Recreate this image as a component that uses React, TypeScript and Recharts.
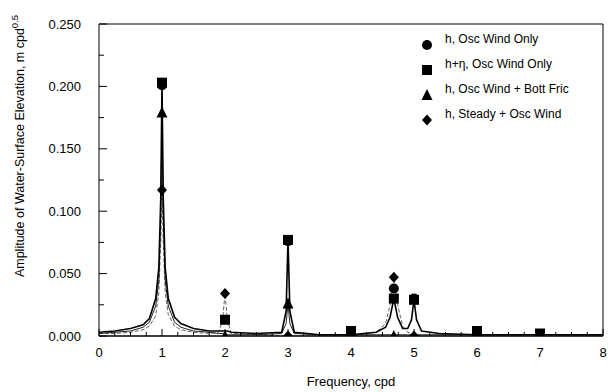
import React from "react";
import {
  ComposedChart,
  Line,
  Scatter,
  XAxis,
  YAxis,
  ZAxis,
  ReferenceLine,
  Label,
} from "recharts";

const FONT = "'Liberation Sans', Arial, sans-serif";

// continuous spectra
const freq = [
  0, 0.25, 0.5, 0.7, 0.8, 0.9, 0.95, 0.98, 1.0, 1.02, 1.05, 1.1, 1.2, 1.3, 1.5, 1.75,
  1.9, 1.96, 2.0, 2.04, 2.1, 2.5, 2.9, 2.97, 3.0, 3.03, 3.1, 3.5, 4.0, 4.4, 4.55, 4.62,
  4.68, 4.74, 4.82, 4.9, 4.96, 5.0, 5.04, 5.12, 5.4, 6.0, 7.0, 8.0,
];
const hEtaLine = [
  0.003, 0.004, 0.006, 0.009, 0.014, 0.03, 0.055, 0.11, 0.203, 0.11, 0.055, 0.03, 0.015,
  0.01, 0.006, 0.004, 0.004, 0.004, 0.004, 0.004, 0.003, 0.002, 0.003, 0.02, 0.077, 0.02,
  0.003, 0.001, 0.001, 0.003, 0.007, 0.015, 0.03, 0.015, 0.006, 0.006, 0.013, 0.029, 0.013,
  0.004, 0.002, 0.001, 0.001, 0.001,
];
const frictionLine = [
  0.002, 0.003, 0.004, 0.007, 0.011, 0.024, 0.045, 0.095, 0.179, 0.095, 0.045, 0.024, 0.011,
  0.007, 0.004, 0.003, 0.002, 0.002, 0.001, 0.001, 0.001, 0.001, 0.002, 0.01, 0.026, 0.01,
  0.002, 0.001, 0.001, 0.001, 0.001, 0.001, 0.001, 0.001, 0.001, 0.001, 0.001, 0.001, 0.001,
  0.001, 0.001, 0.001, 0.001, 0.001,
];
const steadyLine = [
  0.002, 0.002, 0.003, 0.005, 0.008, 0.016, 0.035, 0.075, 0.117, 0.075, 0.035, 0.017, 0.008,
  0.005, 0.003, 0.002, 0.003, 0.012, 0.034, 0.012, 0.002, 0.001, 0.0, 0.0, 0.0, 0.0, 0.0,
  0.0, 0.0, 0.003, 0.01, 0.025, 0.047, 0.025, 0.008, 0.003, 0.002, 0.001, 0.001, 0.0, 0.0,
  0.0, 0.0, 0.0,
];

// markers
const circleX = [1, 3, 4.68, 5];
const circleY = [0.201, 0.076, 0.038, 0.03];
const squareX = [1, 2, 3, 4, 4.68, 5, 6, 7];
const squareY = [0.203, 0.013, 0.077, 0.004, 0.03, 0.029, 0.004, 0.002];
const triangleX = [1, 2, 3, 4.68];
const triangleY = [0.179, 0.0, 0.026, 0.0];
const diamondX = [1, 2, 3, 4.68, 5];
const diamondY = [0.117, 0.034, 0.0, 0.047, 0.0];

const xTicks = [
  0, 0.25, 0.5, 0.75, 1, 1.25, 1.5, 1.75, 2, 2.25, 2.5, 2.75, 3, 3.25, 3.5, 3.75, 4, 4.25,
  4.5, 4.75, 5, 5.25, 5.5, 5.75, 6, 6.25, 6.5, 6.75, 7, 7.25, 7.5, 7.75, 8,
];
const yTicks = [0, 0.025, 0.05, 0.075, 0.1, 0.125, 0.15, 0.175, 0.2, 0.225, 0.25];

const legendItems = [
  { label: "h, Osc Wind Only", shape: "circle" },
  { label: "h+\u03b7, Osc Wind Only", shape: "square" },
  { label: "h, Osc Wind + Bott Fric", shape: "triangle" },
  { label: "h, Steady + Osc Wind", shape: "diamond" },
];

const lineData = freq.map((f, i) => ({
  f,
  hEta: hEtaLine[i],
  fric: frictionLine[i],
  steady: steadyLine[i],
}));
const pts = (xs: number[], ys: number[]) => xs.map((f, i) => ({ f, v: ys[i] }));

function XTick(props: any) {
  const { x, y, payload } = props;
  const major = Math.abs(payload.value - Math.round(payload.value)) < 1e-6;
  return (
    <g>
      <line x1={x} x2={x} y1={y} y2={y - (major ? 7 : 4)} stroke="#000" />
      {major && (
        <text x={x} y={y + 21} textAnchor="middle" fontSize={13} fontFamily={FONT} fill="#000">
          {payload.value}
        </text>
      )}
    </g>
  );
}

function YTick(props: any) {
  const { x, y, payload } = props;
  const major = Math.abs(payload.value * 20 - Math.round(payload.value * 20)) < 1e-6;
  return (
    <g>
      <line x1={x} x2={x + (major ? 8 : 5)} y1={y} y2={y} stroke="#000" />
      {major && (
        <text x={x - 18} y={y + 4.5} textAnchor="end" fontSize={13} fontFamily={FONT} fill="#000">
          {payload.value.toFixed(3)}
        </text>
      )}
    </g>
  );
}

function Marker({ shape, cx, cy }: { shape: string; cx: number; cy: number }) {
  if (shape === "circle") return <circle cx={cx} cy={cy} r={5} fill="#000" />;
  if (shape === "square") return <rect x={cx - 5} y={cy - 5} width={10} height={10} fill="#000" />;
  if (shape === "triangle")
    return <polygon points={`${cx},${cy - 6} ${cx + 5.5},${cy + 5} ${cx - 5.5},${cy + 5}`} fill="#000" />;
  return <polygon points={`${cx},${cy - 5.5} ${cx + 5},${cy} ${cx},${cy + 5.5} ${cx - 5},${cy}`} fill="#000" />;
}

function LegendBox() {
  return (
    <div
      style={{
        position: "absolute",
        left: 420,
        top: 32,
        width: 185,
        fontFamily: FONT,
        fontSize: 12,
        lineHeight: "14px",
        color: "#000",
      }}
    >
      {legendItems.map((it) => (
        <div key={it.label} style={{ display: "flex", alignItems: "flex-start", height: 25 }}>
          <svg width={14} height={20} style={{ marginTop: 4 }}>
            <Marker shape={it.shape} cx={7} cy={9} />
          </svg>
          <span style={{ marginLeft: 11 }}>{it.label}</span>
        </div>
      ))}
    </div>
  );
}

export default function App() {
  return (
    <div style={{ position: "absolute", left: 0, top: 0, width: 608, height: 392, background: "#fff" }}>
      <ComposedChart
        width={608}
        height={392}
        data={lineData}
        margin={{ top: 24, right: 5, bottom: 26, left: 0 }}
      >
        <XAxis
          dataKey="f"
          type="number"
          domain={[0, 8]}
          ticks={xTicks}
          interval={0}
          tickSize={0}
          tickMargin={0}
          tick={<XTick />}
          axisLine={{ stroke: "#000", strokeWidth: 1.5 }}
          height={30}
          allowDataOverflow
        >
          <Label
            content={() => (
              <text x={351} y={386} textAnchor="middle" fontSize={13} fontFamily={FONT} fill="#000">
                Frequency, cpd
              </text>
            )}
          />
        </XAxis>
        <YAxis
          type="number"
          domain={[0, 0.25]}
          ticks={yTicks}
          interval={0}
          tickSize={0}
          tickMargin={0}
          tick={<YTick />}
          axisLine={{ stroke: "#000", strokeWidth: 1 }}
          width={99}
          allowDataOverflow
        >
          <Label
            content={() => (
              <text
                transform="translate(24,146) rotate(-90)"
                textAnchor="middle"
                fontSize={12.5}
                fontFamily={FONT}
                fill="#000"
              >
                Amplitude of Water-Surface Elevation, m cpd
                <tspan dy={-6} fontSize={9.5}>0.5</tspan>
              </text>
            )}
          />
        </YAxis>
        <ZAxis range={[80, 80]} />
        <ReferenceLine y={0.25} stroke="#000" strokeWidth={1} />
        <ReferenceLine x={8} stroke="#000" strokeWidth={1} />
        <Line
          dataKey="steady"
          type="linear"
          stroke="#666"
          strokeWidth={1}
          strokeDasharray="4 2"
          dot={false}
          legendType="none"
          isAnimationActive={false}
        />
        <Line
          dataKey="fric"
          type="linear"
          stroke="#222"
          strokeWidth={1}
          dot={false}
          legendType="none"
          isAnimationActive={false}
        />
        <Line
          dataKey="hEta"
          type="linear"
          stroke="#000"
          strokeWidth={1.6}
          dot={false}
          legendType="none"
          isAnimationActive={false}
        />
        <Scatter
          data={pts(circleX, circleY)}
          dataKey="v"
          shape={(p: any) => <Marker shape="circle" cx={p.cx} cy={p.cy} />}
          isAnimationActive={false}
        />
        <Scatter
          data={pts(squareX, squareY)}
          dataKey="v"
          shape={(p: any) => <Marker shape="square" cx={p.cx} cy={p.cy} />}
          isAnimationActive={false}
        />
        <Scatter
          data={pts(triangleX, triangleY)}
          dataKey="v"
          shape={(p: any) => <Marker shape="triangle" cx={p.cx} cy={p.cy} />}
          isAnimationActive={false}
        />
        <Scatter
          data={pts(diamondX, diamondY)}
          dataKey="v"
          shape={(p: any) => <Marker shape="diamond" cx={p.cx} cy={p.cy} />}
          isAnimationActive={false}
        />
      </ComposedChart>
      <LegendBox />
    </div>
  );
}
